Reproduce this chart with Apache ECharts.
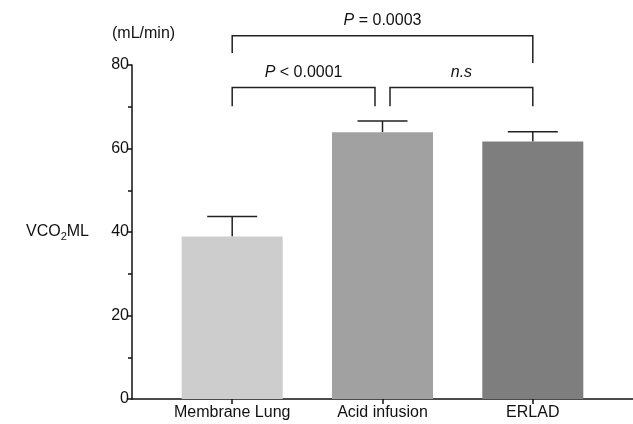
<!DOCTYPE html>
<html>
<head>
<meta charset="utf-8">
<script src="https://cdn.jsdelivr.net/npm/echarts@6/dist/echarts.min.js"></script>
<style>
  html, body { margin: 0; padding: 0; background: #fff; }
  #chart { width: 633px; height: 424px; }
</style>
</head>
<body>
<div id="chart"></div>
<script>
// data
const categories = ['Membrane Lung', 'Acid infusion', 'ERLAD'];
const positions = [1, 2, 3];
const means = [38.9, 63.9, 61.7];
const errorTops = [43.7, 66.6, 64.0];
const yTicks = [0, 20, 40, 60, 80];

// significance brackets (x in category positions, y in mL/min)
const bracketFrom = [1, 1, 2.05];
const bracketTo = [3, 1.95, 3];
const bracketTop = [87.0, 74.6, 74.6];
const bracketLeftEnd = [82.9, 70.1, 70.1];
const bracketRightEnd = [80.5, 70.1, 70.1];
const bracketLabels = ['{i|P} = 0.0003', '{i|P} < 0.0001', '{i|n.s}'];

const barColors = ['#cdcdcd', '#a1a1a1', '#7e7e7e'];
const font = '"Liberation Sans", Arial, sans-serif';

let myChart = echarts.init(document.getElementById('chart'));

let option = {
  animation: false,
  textStyle: { fontFamily: font },
  grid: { left: 132, right: 0, top: 65, bottom: 25 },
  graphic: [
    {
      type: 'text',
      left: 112,
      top: 26,
      style: { text: '(mL/min)', fontSize: 16, fontFamily: font, fill: '#111' }
    }
  ],
  xAxis: {
    type: 'value',
    min: 1 / 3,
    max: 11 / 3,
    splitLine: { show: false },
    axisLine: { onZero: false, lineStyle: { color: '#111', width: 1.5 } },
    axisTick: { customValues: positions, length: 5, lineStyle: { color: '#111', width: 1.5 } },
    axisLabel: {
      customValues: positions,
      fontSize: 16,
      color: '#111',
      margin: 6,
      formatter: v => categories[Math.round(v) - 1]
    }
  },
  yAxis: {
    type: 'value',
    min: 0,
    max: 80,
    interval: 20,
    splitLine: { show: false },
    axisLine: { show: true, lineStyle: { color: '#111', width: 1.5 } },
    axisTick: { show: true, length: 4, lineStyle: { color: '#111', width: 1.5 } },
    minorTick: { show: true, splitNumber: 2, length: 4, lineStyle: { color: '#111', width: 1.5 } },
    axisLabel: {
      fontSize: 16,
      color: '#111',
      margin: 3,
      customValues: yTicks
    },
    name: 'VCO{sub|2}ML',
    nameLocation: 'middle',
    nameRotate: 0,
    nameGap: 43,
    nameTextStyle: {
      fontSize: 16,
      color: '#111',
      align: 'right',
      rich: {
        sub: { fontSize: 11, padding: [9, 0, 0, 0], color: '#111' }
      }
    }
  },
  series: [
    {
      type: 'bar',
      barWidth: 101,
      data: positions.map((x, i) => ({ value: [x, means[i]], itemStyle: { color: barColors[i] } }))
    },
    {
      type: 'custom',
      clip: false,
      data: positions.map((x, i) => [x, means[i], errorTops[i]]),
      encode: { x: 0, y: [1, 2] },
      renderItem: function (params, api) {
        const base = api.coord([api.value(0), api.value(1)]);
        const top = api.coord([api.value(0), api.value(2)]);
        const half = 25;
        const st = { stroke: '#222', lineWidth: 1.5, fill: null };
        return {
          type: 'group',
          children: [
            { type: 'line', shape: { x1: base[0], y1: base[1], x2: top[0], y2: top[1] }, style: st },
            { type: 'line', shape: { x1: top[0] - half, y1: top[1], x2: top[0] + half, y2: top[1] }, style: st }
          ]
        };
      }
    },
    {
      type: 'custom',
      clip: false,
      data: bracketFrom.map((f, i) => [f, bracketTo[i], bracketTop[i], bracketLeftEnd[i], bracketRightEnd[i], i]),
      encode: { x: [0, 1], y: [2, 3, 4] },
      renderItem: function (params, api) {
        const x1 = api.value(0), x2 = api.value(1), yt = api.value(2);
        const pL = api.coord([x1, api.value(3)]);
        const pTL = api.coord([x1, yt]);
        const pTR = api.coord([x2, yt]);
        const pR = api.coord([x2, api.value(4)]);
        const idx = api.value(5);
        return {
          type: 'group',
          children: [
            {
              type: 'polyline',
              shape: { points: [pL, pTL, pTR, pR] },
              style: { stroke: '#222', lineWidth: 1.5, fill: null }
            },
            {
              type: 'text',
              style: {
                text: bracketLabels[idx],
                x: (pTL[0] + pTR[0]) / 2,
                y: pTL[1] - 7,
                align: 'center',
                verticalAlign: 'bottom',
                fontSize: 16,
                fontFamily: font,
                fill: '#111',
                rich: { i: { fontStyle: 'italic', fontSize: 16, fontFamily: font, fill: '#111' } }
              }
            }
          ]
        };
      }
    }
  ]
};

myChart.setOption(option);
</script>
</body>
</html>
